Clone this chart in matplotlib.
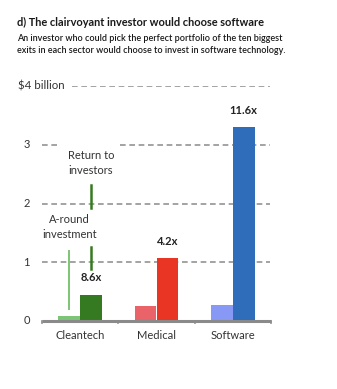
import matplotlib
matplotlib.use("Agg")
import matplotlib.pyplot as plt

categories = ["Cleantech", "Medical", "Software"]
a_round = [0.09, 0.26, 0.28]
returns = [0.45, 1.07, 3.30]
multiples = ["8.6x", "4.2x", "11.6x"]
light_colors = ["#7cc576", "#e96368", "#8899f5"]
dark_colors = ["#357a20", "#e83524", "#2f6cba"]
yticks = [0, 1, 2, 3]
top_label = "$4 billion"

W, H = 337, 389
plt.rcParams['font.family'] = ['Lato', 'DejaVu Sans']
fig = plt.figure(figsize=(W / 100, H / 100), dpi=100)

def px2fig(x0, y0, x1, y1):
    return [x0 / W, 1 - y1 / H, (x1 - x0) / W, (y1 - y0) / H]

ax = fig.add_axes(px2fig(42, 86, 271, 321))
ax.set_xlim(-0.5, 2.5)
ax.set_ylim(0, 4)
ax.axis("off")

grid_kw = dict(color="#949494", lw=1.2, dashes=(3.4, 2.2), zorder=1)
for y in [1, 2]:
    ax.plot([-0.5, 2.49], [y, y], **grid_kw)
ax.plot([-0.5, -0.30], [3, 3], **grid_kw)
ax.plot([0.52, 2.49], [3, 3], **grid_kw)
ax.plot([-0.11, 2.49], [4, 4], **grid_kw)

bw = 0.284
xs = range(len(categories))
ax.bar([x - bw / 2 for x in xs], a_round, width=bw, color=light_colors, zorder=2)
ax.bar([x + bw / 2 for x in xs], returns, width=bw, color=dark_colors, zorder=2)

for x, r, m in zip(xs, returns, multiples):
    ax.annotate(m, (x + bw / 2, r), xytext=(0, 12), textcoords="offset points",
                ha="center", va="center", fontsize=8, fontweight="bold", color="#222222")

ax.plot([-0.5, 2.5], [0, 0], color="#8a8a8a", lw=2.2, zorder=3, clip_on=False,
        solid_capstyle="butt")
for xt in [-0.5, 0.5, 1.5, 2.5]:
    ax.plot([xt, xt], [0, -0.04], color="#8a8a8a", lw=1.2, zorder=3, clip_on=False)

for x, c in zip(xs, categories):
    ax.text(x, -0.25, c, ha="center", va="center", fontsize=8, color="#333333")

for y in yticks:
    ax.text(-0.66, y, str(y), ha="right", va="center", fontsize=8, color="#333333")
ax.text(-0.81, 4, top_label, ha="left", va="center", fontsize=8.3, color="#333333")

lx = 0 - bw / 2
dx = 0 + bw / 2
ax.plot([lx, lx], [0.2, 1.2], color="#7cc576", lw=1.4, zorder=4)
ax.plot([dx, dx], [0.88, 1.26], color="#357a20", lw=1.8, zorder=4)
ax.plot([dx, dx], [1.93, 2.32], color="#357a20", lw=1.8, zorder=4)
ax.text(dx, 2.69, "Return to\ninvestors", ha="center", va="center", fontsize=8,
        color="#333333", linespacing=1.5)
ax.text(lx, 1.6, "A-round\ninvestment", ha="center", va="center", fontsize=8,
        color="#333333", linespacing=1.5)

fig.text(17 / W, 1 - 22 / H, "d) The clairvoyant investor would choose software",
         ha="left", va="center", fontsize=7.9, fontweight="bold", color="#1a1a1a")
fig.text(17 / W, 1 - 44.5 / H,
         "An investor who could pick the perfect portfolio of the ten biggest\n"
         "exits in each sector would choose to invest in software technology.",
         ha="left", va="center", fontsize=6.5, fontweight="semibold", color="#1a1a1a",
         linespacing=1.4)

fig.savefig("out.png", dpi=100)
